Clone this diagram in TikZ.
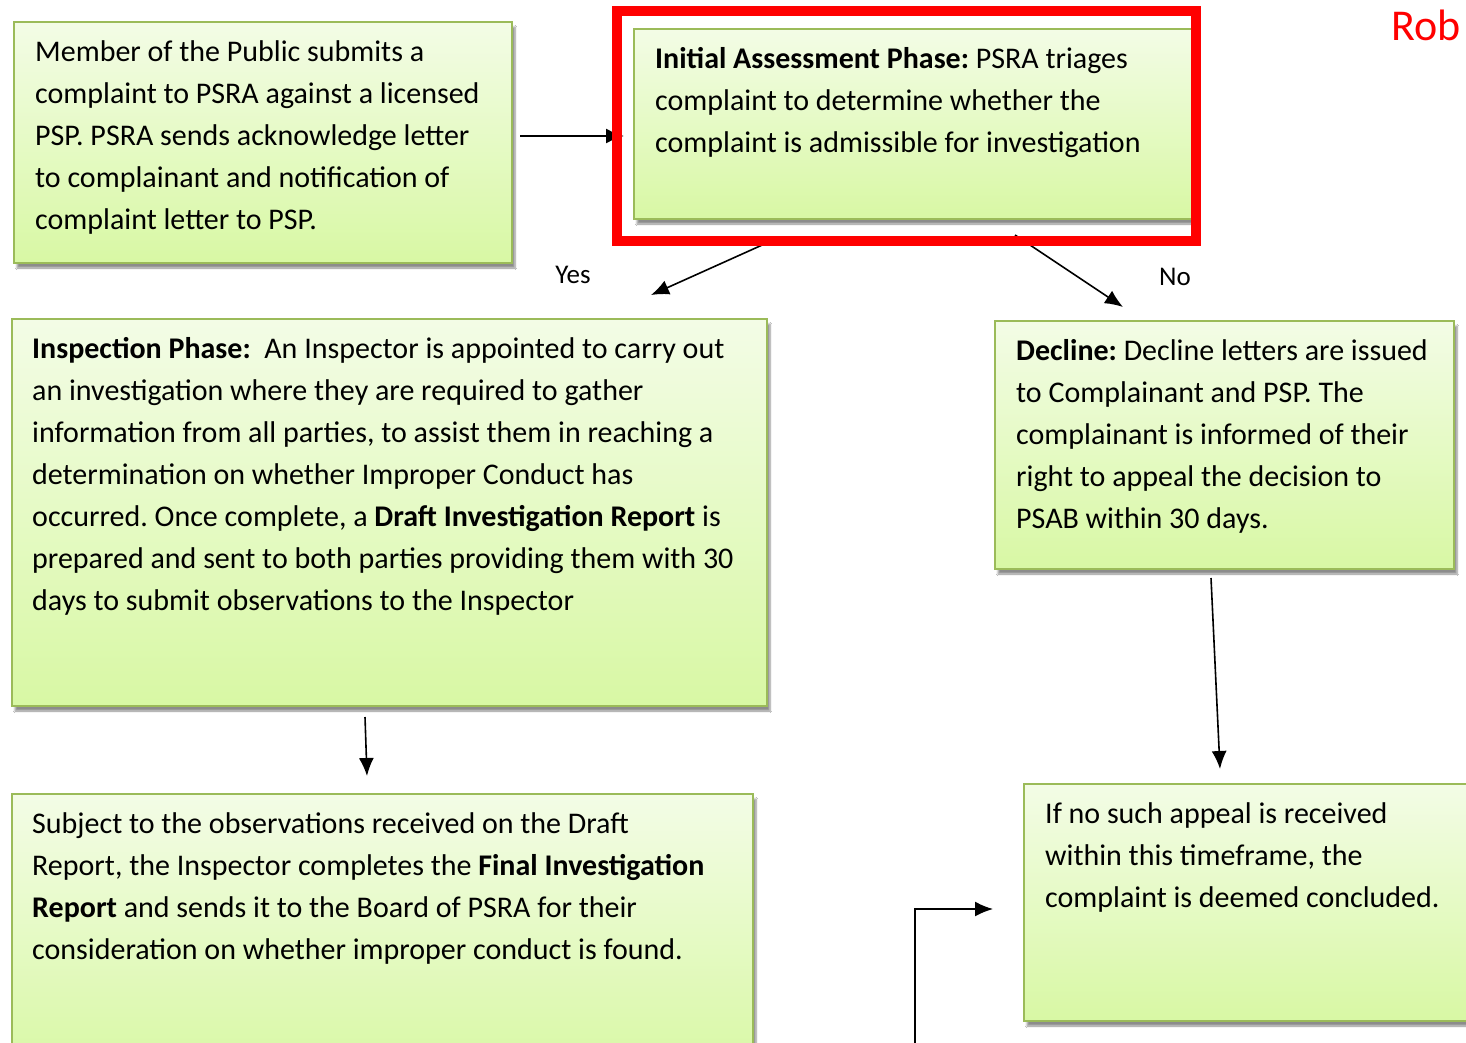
\documentclass[tikz,border=0pt]{standalone}
\usepackage{fontspec}
\setmainfont{Carlito}
\usetikzlibrary{arrows.meta,shadows.blur}
\definecolor{boxline}{HTML}{9BBB59}
\definecolor{boxtop}{HTML}{F3FCE6}
\definecolor{boxbot}{HTML}{D8F8A4}
\definecolor{redframe}{HTML}{FF0000}
\newcommand{\natsp}{\spaceskip=0.226em\xspaceskip=0.226em\relax}
\tikzset{
  greenbox/.style={draw=boxline, line width=2pt, top color=boxtop, bottom color=boxbot,
    rectangle, inner sep=0pt, anchor=north west,
    blur shadow={shadow xshift=3pt, shadow yshift=-5pt, shadow opacity=45, shadow blur steps=6}},
  boxtext/.style={anchor=base west, align=left, inner sep=0pt, text width=760pt,
    font=\fontsize{30}{42}\selectfont, text=black},
  lbl/.style={inner sep=0pt, font=\fontsize{27}{32}\selectfont},
  flow/.style={draw=black, line width=1.6pt, -{Latex[length=18pt,width=15pt]}}
}
\begin{document}
\begin{tikzpicture}[x=1pt,y=-1pt]
\clip (0,0) rectangle (1466,1042);
\fill[white] (0,0) rectangle (1466,1042);
% boxes
\node[greenbox, minimum width=498pt, minimum height=241pt] (a) at (13,21) {};
\node[greenbox, minimum width=561pt, minimum height=190pt] (b) at (633,28) {};
\node[greenbox, minimum width=755pt, minimum height=387pt] (c) at (11,318) {};
\node[greenbox, minimum width=459pt, minimum height=248pt] (d) at (994,320) {};
\node[greenbox, minimum width=741pt, minimum height=280pt] (e) at (11,793) {};
\node[greenbox, minimum width=470pt, minimum height=237pt] (f) at (1023,783) {};
% texts
\node[boxtext] (ta) at (35,61) {\natsp Member of the Public submits a\\complaint to PSRA against a licensed\\PSP. PSRA sends acknowledge letter\\to complainant and notification of\\complaint letter to PSP.};
\node[boxtext] (tb) at (655,68) {\natsp\textbf{Initial Assessment Phase:} PSRA triages\\complaint to determine whether the\\complaint is admissible for investigation};
\node[boxtext] (tc) at (32,358) {\natsp\textbf{Inspection Phase:}\ \ An Inspector is appointed to carry out\\an investigation where they are required to gather\\information from all parties, to assist them in reaching a\\determination on whether Improper Conduct has\\occurred. Once complete, a \textbf{Draft Investigation Report} is\\prepared and sent to both parties providing them with 30\\days to submit observations to the Inspector};
\node[boxtext] (td) at (1016,360) {\natsp\textbf{Decline:} Decline letters are issued\\to Complainant and PSP. The\\complainant is informed of their\\right to appeal the decision to\\PSAB within 30 days.};
\node[boxtext] (te) at (32,833) {\natsp Subject to the observations received on the Draft\\Report, the Inspector completes the \textbf{Final Investigation}\\\textbf{Report} and sends it to the Board of PSRA for their\\consideration on whether improper conduct is found.};
\node[boxtext] (tf) at (1045,823) {\natsp If no such appeal is received\\within this timeframe, the\\complaint is deemed concluded.};
% connector end points
\coordinate (ab1) at (520,136);
\coordinate (ab2) at (624,136);
\coordinate (y1) at (780,237);
\coordinate (y2) at (651,295);
\coordinate (n1) at (1015,235);
\coordinate (n2) at (1123,307);
\coordinate (ce1) at (365,717);
\coordinate (ce2) at (367,776);
\coordinate (df1) at (1211,578);
\coordinate (df2) at (1220,769);
\coordinate (el1) at (915,1050);
\coordinate (el2) at (993,909);
\draw[flow] (ab1) -- (ab2);
\draw[flow] (y1) -- (y2);
\draw[flow] (n1) -- (n2);
\draw[flow] (ce1) -- (ce2);
\draw[flow] (df1) -- (df2);
\draw[flow] (el1) |- (el2);
% labels
\node[lbl] (yes) at (573,275) {Yes};
\node[lbl] (no) at (1175,277) {No};
% red highlight frame
\draw[redframe, line width=10pt] (617,11) rectangle (1196,241);
\node[anchor=base west, inner sep=0pt, text=redframe, font=\fontsize{44}{48}\selectfont] (rob) at (1391,40) {Rob};
\end{tikzpicture}
\end{document}
